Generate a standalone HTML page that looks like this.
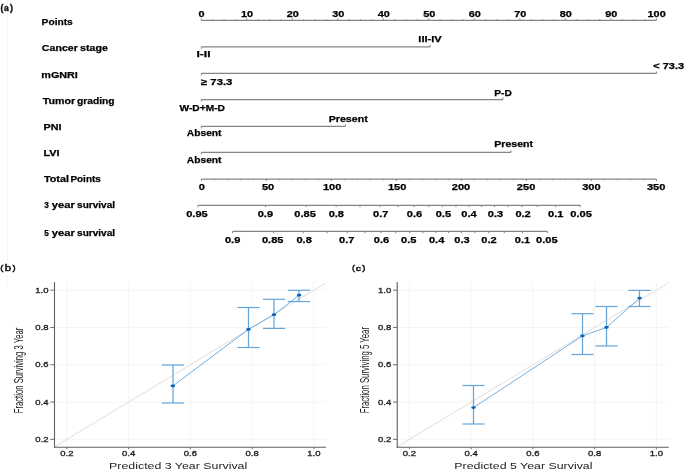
<!DOCTYPE html>
<html><head><meta charset="utf-8"><style>
html,body{margin:0;padding:0;background:#fff;width:685px;height:470px;overflow:hidden}
svg{display:block;will-change:transform}
text{font-family:"Liberation Sans",sans-serif}
</style></head><body>
<svg width="685" height="470" viewBox="0 0 685 470">
<rect width="685" height="470" fill="#fff"/>
<line x1="7.6" y1="0" x2="7.6" y2="285" stroke="#f7f7f7" stroke-width="1"/>
<text x="0.56" y="10.61" font-size="9.73" font-weight="bold" fill="#111" text-anchor="start" textLength="2.91" lengthAdjust="spacingAndGlyphs" stroke="#111" stroke-width="0.4">(</text>
<text x="4.09" y="10.65" font-size="9.64" font-weight="bold" fill="#111" text-anchor="start" textLength="4.78" lengthAdjust="spacingAndGlyphs" stroke="#111" stroke-width="0.4">a</text>
<text x="9.95" y="10.61" font-size="9.73" font-weight="bold" fill="#111" text-anchor="start" textLength="2.92" lengthAdjust="spacingAndGlyphs" stroke="#111" stroke-width="0.4">)</text>
<text x="41.64" y="24.90" font-size="9.40" font-weight="bold" fill="#000" text-anchor="start" textLength="31.18" lengthAdjust="spacingAndGlyphs" stroke="#000" stroke-width="0.25">Points</text>
<text x="41.88" y="50.80" font-size="9.40" font-weight="bold" fill="#000" text-anchor="start" textLength="35.99" lengthAdjust="spacingAndGlyphs" stroke="#000" stroke-width="0.25">Cancer</text>
<text x="80.13" y="50.80" font-size="9.40" font-weight="bold" fill="#000" text-anchor="start" textLength="27.67" lengthAdjust="spacingAndGlyphs" stroke="#000" stroke-width="0.25">stage</text>
<text x="41.30" y="77.50" font-size="9.40" font-weight="bold" fill="#000" text-anchor="start" textLength="36.55" lengthAdjust="spacingAndGlyphs" stroke="#000" stroke-width="0.25">mGNRI</text>
<text x="42.79" y="103.50" font-size="9.40" font-weight="bold" fill="#000" text-anchor="start" textLength="32.33" lengthAdjust="spacingAndGlyphs" stroke="#000" stroke-width="0.25">Tumor</text>
<text x="76.99" y="103.50" font-size="9.40" font-weight="bold" fill="#000" text-anchor="start" textLength="37.59" lengthAdjust="spacingAndGlyphs" stroke="#000" stroke-width="0.25">grading</text>
<text x="43.50" y="130.40" font-size="9.40" font-weight="bold" fill="#000" text-anchor="start" textLength="18.03" lengthAdjust="spacingAndGlyphs" stroke="#000" stroke-width="0.25">PNI</text>
<text x="43.49" y="155.70" font-size="9.40" font-weight="bold" fill="#000" text-anchor="start" textLength="16.13" lengthAdjust="spacingAndGlyphs" stroke="#000" stroke-width="0.25">LVI</text>
<text x="43.99" y="182.30" font-size="9.40" font-weight="bold" fill="#000" text-anchor="start" textLength="24.96" lengthAdjust="spacingAndGlyphs" stroke="#000" stroke-width="0.25">Total</text>
<text x="70.45" y="182.30" font-size="9.40" font-weight="bold" fill="#000" text-anchor="start" textLength="30.35" lengthAdjust="spacingAndGlyphs" stroke="#000" stroke-width="0.25">Points</text>
<text x="44.19" y="208.40" font-size="9.40" font-weight="bold" fill="#000" text-anchor="start" textLength="4.61" lengthAdjust="spacingAndGlyphs" stroke="#000" stroke-width="0.25">3</text>
<text x="51.89" y="208.40" font-size="9.40" font-weight="bold" fill="#000" text-anchor="start" textLength="22.95" lengthAdjust="spacingAndGlyphs" stroke="#000" stroke-width="0.25">year</text>
<text x="77.05" y="208.40" font-size="9.40" font-weight="bold" fill="#000" text-anchor="start" textLength="38.01" lengthAdjust="spacingAndGlyphs" stroke="#000" stroke-width="0.25">survival</text>
<text x="44.15" y="235.60" font-size="9.40" font-weight="bold" fill="#000" text-anchor="start" textLength="4.56" lengthAdjust="spacingAndGlyphs" stroke="#000" stroke-width="0.25">5</text>
<text x="51.89" y="235.60" font-size="9.40" font-weight="bold" fill="#000" text-anchor="start" textLength="22.95" lengthAdjust="spacingAndGlyphs" stroke="#000" stroke-width="0.25">year</text>
<text x="77.05" y="235.60" font-size="9.40" font-weight="bold" fill="#000" text-anchor="start" textLength="38.01" lengthAdjust="spacingAndGlyphs" stroke="#000" stroke-width="0.25">survival</text>
<line x1="201.30" y1="20.40" x2="656.40" y2="20.40" stroke="#858585" stroke-width="1.25"/>
<line x1="201.30" y1="20.40" x2="201.30" y2="18.40" stroke="#858585" stroke-width="1"/>
<line x1="212.68" y1="20.40" x2="212.68" y2="19.20" stroke="#858585" stroke-width="1"/>
<line x1="224.06" y1="20.40" x2="224.06" y2="19.20" stroke="#858585" stroke-width="1"/>
<line x1="235.43" y1="20.40" x2="235.43" y2="19.20" stroke="#858585" stroke-width="1"/>
<line x1="246.81" y1="20.40" x2="246.81" y2="18.40" stroke="#858585" stroke-width="1"/>
<line x1="258.19" y1="20.40" x2="258.19" y2="19.20" stroke="#858585" stroke-width="1"/>
<line x1="269.56" y1="20.40" x2="269.56" y2="19.20" stroke="#858585" stroke-width="1"/>
<line x1="280.94" y1="20.40" x2="280.94" y2="19.20" stroke="#858585" stroke-width="1"/>
<line x1="292.32" y1="20.40" x2="292.32" y2="18.40" stroke="#858585" stroke-width="1"/>
<line x1="303.70" y1="20.40" x2="303.70" y2="19.20" stroke="#858585" stroke-width="1"/>
<line x1="315.07" y1="20.40" x2="315.07" y2="19.20" stroke="#858585" stroke-width="1"/>
<line x1="326.45" y1="20.40" x2="326.45" y2="19.20" stroke="#858585" stroke-width="1"/>
<line x1="337.83" y1="20.40" x2="337.83" y2="18.40" stroke="#858585" stroke-width="1"/>
<line x1="349.21" y1="20.40" x2="349.21" y2="19.20" stroke="#858585" stroke-width="1"/>
<line x1="360.58" y1="20.40" x2="360.58" y2="19.20" stroke="#858585" stroke-width="1"/>
<line x1="371.96" y1="20.40" x2="371.96" y2="19.20" stroke="#858585" stroke-width="1"/>
<line x1="383.34" y1="20.40" x2="383.34" y2="18.40" stroke="#858585" stroke-width="1"/>
<line x1="394.72" y1="20.40" x2="394.72" y2="19.20" stroke="#858585" stroke-width="1"/>
<line x1="406.09" y1="20.40" x2="406.09" y2="19.20" stroke="#858585" stroke-width="1"/>
<line x1="417.47" y1="20.40" x2="417.47" y2="19.20" stroke="#858585" stroke-width="1"/>
<line x1="428.85" y1="20.40" x2="428.85" y2="18.40" stroke="#858585" stroke-width="1"/>
<line x1="440.23" y1="20.40" x2="440.23" y2="19.20" stroke="#858585" stroke-width="1"/>
<line x1="451.60" y1="20.40" x2="451.60" y2="19.20" stroke="#858585" stroke-width="1"/>
<line x1="462.98" y1="20.40" x2="462.98" y2="19.20" stroke="#858585" stroke-width="1"/>
<line x1="474.36" y1="20.40" x2="474.36" y2="18.40" stroke="#858585" stroke-width="1"/>
<line x1="485.74" y1="20.40" x2="485.74" y2="19.20" stroke="#858585" stroke-width="1"/>
<line x1="497.11" y1="20.40" x2="497.11" y2="19.20" stroke="#858585" stroke-width="1"/>
<line x1="508.49" y1="20.40" x2="508.49" y2="19.20" stroke="#858585" stroke-width="1"/>
<line x1="519.87" y1="20.40" x2="519.87" y2="18.40" stroke="#858585" stroke-width="1"/>
<line x1="531.25" y1="20.40" x2="531.25" y2="19.20" stroke="#858585" stroke-width="1"/>
<line x1="542.62" y1="20.40" x2="542.62" y2="19.20" stroke="#858585" stroke-width="1"/>
<line x1="554.00" y1="20.40" x2="554.00" y2="19.20" stroke="#858585" stroke-width="1"/>
<line x1="565.38" y1="20.40" x2="565.38" y2="18.40" stroke="#858585" stroke-width="1"/>
<line x1="576.76" y1="20.40" x2="576.76" y2="19.20" stroke="#858585" stroke-width="1"/>
<line x1="588.13" y1="20.40" x2="588.13" y2="19.20" stroke="#858585" stroke-width="1"/>
<line x1="599.51" y1="20.40" x2="599.51" y2="19.20" stroke="#858585" stroke-width="1"/>
<line x1="610.89" y1="20.40" x2="610.89" y2="18.40" stroke="#858585" stroke-width="1"/>
<line x1="622.27" y1="20.40" x2="622.27" y2="19.20" stroke="#858585" stroke-width="1"/>
<line x1="633.64" y1="20.40" x2="633.64" y2="19.20" stroke="#858585" stroke-width="1"/>
<line x1="645.02" y1="20.40" x2="645.02" y2="19.20" stroke="#858585" stroke-width="1"/>
<line x1="656.40" y1="20.40" x2="656.40" y2="18.40" stroke="#858585" stroke-width="1"/>
<text x="198.63" y="16.50" font-size="9.20" font-weight="bold" fill="#000" text-anchor="start" textLength="6.06" lengthAdjust="spacingAndGlyphs" stroke="#000" stroke-width="0.25">0</text>
<text x="241.00" y="16.50" font-size="9.20" font-weight="bold" fill="#000" text-anchor="start" textLength="12.12" lengthAdjust="spacingAndGlyphs" stroke="#000" stroke-width="0.25">10</text>
<text x="286.65" y="16.50" font-size="9.20" font-weight="bold" fill="#000" text-anchor="start" textLength="12.12" lengthAdjust="spacingAndGlyphs" stroke="#000" stroke-width="0.25">20</text>
<text x="332.21" y="16.50" font-size="9.20" font-weight="bold" fill="#000" text-anchor="start" textLength="12.12" lengthAdjust="spacingAndGlyphs" stroke="#000" stroke-width="0.25">30</text>
<text x="377.78" y="16.50" font-size="9.20" font-weight="bold" fill="#000" text-anchor="start" textLength="12.12" lengthAdjust="spacingAndGlyphs" stroke="#000" stroke-width="0.25">40</text>
<text x="423.20" y="16.50" font-size="9.20" font-weight="bold" fill="#000" text-anchor="start" textLength="12.12" lengthAdjust="spacingAndGlyphs" stroke="#000" stroke-width="0.25">50</text>
<text x="468.69" y="16.50" font-size="9.20" font-weight="bold" fill="#000" text-anchor="start" textLength="12.12" lengthAdjust="spacingAndGlyphs" stroke="#000" stroke-width="0.25">60</text>
<text x="514.17" y="16.50" font-size="9.20" font-weight="bold" fill="#000" text-anchor="start" textLength="12.12" lengthAdjust="spacingAndGlyphs" stroke="#000" stroke-width="0.25">70</text>
<text x="559.73" y="16.50" font-size="9.20" font-weight="bold" fill="#000" text-anchor="start" textLength="12.12" lengthAdjust="spacingAndGlyphs" stroke="#000" stroke-width="0.25">80</text>
<text x="605.22" y="16.50" font-size="9.20" font-weight="bold" fill="#000" text-anchor="start" textLength="12.12" lengthAdjust="spacingAndGlyphs" stroke="#000" stroke-width="0.25">90</text>
<text x="647.57" y="16.50" font-size="9.20" font-weight="bold" fill="#000" text-anchor="start" textLength="18.19" lengthAdjust="spacingAndGlyphs" stroke="#000" stroke-width="0.25">100</text>
<line x1="201.30" y1="46.80" x2="430.20" y2="46.80" stroke="#858585" stroke-width="1.25"/>
<line x1="201.30" y1="46.80" x2="201.30" y2="48.80" stroke="#858585" stroke-width="1"/>
<line x1="430.20" y1="46.80" x2="430.20" y2="44.80" stroke="#858585" stroke-width="1"/>
<text x="196.52" y="57.00" font-size="8.80" font-weight="bold" fill="#000" text-anchor="start" textLength="13.98" lengthAdjust="spacingAndGlyphs" stroke="#000" stroke-width="0.25">I-II</text>
<text x="418.38" y="42.00" font-size="8.80" font-weight="bold" fill="#000" text-anchor="start" textLength="23.39" lengthAdjust="spacingAndGlyphs" stroke="#000" stroke-width="0.25">III-IV</text>
<line x1="201.30" y1="73.45" x2="656.40" y2="73.45" stroke="#858585" stroke-width="1.25"/>
<line x1="201.30" y1="73.45" x2="201.30" y2="75.45" stroke="#858585" stroke-width="1"/>
<line x1="656.40" y1="73.45" x2="656.40" y2="71.45" stroke="#858585" stroke-width="1"/>
<text x="201.02" y="85.40" font-size="8.80" font-weight="bold" fill="#000" text-anchor="start" textLength="31.41" lengthAdjust="spacingAndGlyphs" stroke="#000" stroke-width="0.25">≥ 73.3</text>
<text x="653.26" y="69.00" font-size="8.80" font-weight="bold" fill="#000" text-anchor="start" textLength="30.86" lengthAdjust="spacingAndGlyphs" stroke="#000" stroke-width="0.25">&lt; 73.3</text>
<line x1="201.30" y1="99.50" x2="502.90" y2="99.50" stroke="#858585" stroke-width="1.25"/>
<line x1="201.30" y1="99.50" x2="201.30" y2="101.50" stroke="#858585" stroke-width="1"/>
<line x1="502.90" y1="99.50" x2="502.90" y2="97.50" stroke="#858585" stroke-width="1"/>
<text x="179.50" y="111.20" font-size="8.80" font-weight="bold" fill="#000" text-anchor="start" textLength="45.52" lengthAdjust="spacingAndGlyphs" stroke="#000" stroke-width="0.25">W-D+M-D</text>
<text x="494.34" y="96.00" font-size="8.80" font-weight="bold" fill="#000" text-anchor="start" textLength="17.49" lengthAdjust="spacingAndGlyphs" stroke="#000" stroke-width="0.25">P-D</text>
<line x1="201.30" y1="126.45" x2="345.50" y2="126.45" stroke="#858585" stroke-width="1.25"/>
<line x1="201.30" y1="126.45" x2="201.30" y2="128.45" stroke="#858585" stroke-width="1"/>
<line x1="345.50" y1="126.45" x2="345.50" y2="124.45" stroke="#858585" stroke-width="1"/>
<text x="186.84" y="135.80" font-size="8.80" font-weight="bold" fill="#000" text-anchor="start" textLength="34.70" lengthAdjust="spacingAndGlyphs" stroke="#000" stroke-width="0.25">Absent</text>
<text x="328.71" y="122.30" font-size="8.80" font-weight="bold" fill="#000" text-anchor="start" textLength="39.04" lengthAdjust="spacingAndGlyphs" stroke="#000" stroke-width="0.25">Present</text>
<line x1="201.30" y1="152.45" x2="510.90" y2="152.45" stroke="#858585" stroke-width="1.25"/>
<line x1="201.30" y1="152.45" x2="201.30" y2="154.45" stroke="#858585" stroke-width="1"/>
<line x1="510.90" y1="152.45" x2="510.90" y2="150.45" stroke="#858585" stroke-width="1"/>
<text x="186.84" y="162.60" font-size="8.80" font-weight="bold" fill="#000" text-anchor="start" textLength="34.70" lengthAdjust="spacingAndGlyphs" stroke="#000" stroke-width="0.25">Absent</text>
<text x="494.31" y="147.40" font-size="8.80" font-weight="bold" fill="#000" text-anchor="start" textLength="38.83" lengthAdjust="spacingAndGlyphs" stroke="#000" stroke-width="0.25">Present</text>
<line x1="201.40" y1="179.00" x2="656.40" y2="179.00" stroke="#858585" stroke-width="1.25"/>
<line x1="201.40" y1="179.00" x2="201.40" y2="181.00" stroke="#858585" stroke-width="1"/>
<line x1="214.40" y1="179.00" x2="214.40" y2="180.20" stroke="#858585" stroke-width="1"/>
<line x1="227.40" y1="179.00" x2="227.40" y2="180.20" stroke="#858585" stroke-width="1"/>
<line x1="240.40" y1="179.00" x2="240.40" y2="180.20" stroke="#858585" stroke-width="1"/>
<line x1="253.40" y1="179.00" x2="253.40" y2="180.20" stroke="#858585" stroke-width="1"/>
<line x1="266.40" y1="179.00" x2="266.40" y2="181.00" stroke="#858585" stroke-width="1"/>
<line x1="279.40" y1="179.00" x2="279.40" y2="180.20" stroke="#858585" stroke-width="1"/>
<line x1="292.40" y1="179.00" x2="292.40" y2="180.20" stroke="#858585" stroke-width="1"/>
<line x1="305.40" y1="179.00" x2="305.40" y2="180.20" stroke="#858585" stroke-width="1"/>
<line x1="318.40" y1="179.00" x2="318.40" y2="180.20" stroke="#858585" stroke-width="1"/>
<line x1="331.40" y1="179.00" x2="331.40" y2="181.00" stroke="#858585" stroke-width="1"/>
<line x1="344.40" y1="179.00" x2="344.40" y2="180.20" stroke="#858585" stroke-width="1"/>
<line x1="357.40" y1="179.00" x2="357.40" y2="180.20" stroke="#858585" stroke-width="1"/>
<line x1="370.40" y1="179.00" x2="370.40" y2="180.20" stroke="#858585" stroke-width="1"/>
<line x1="383.40" y1="179.00" x2="383.40" y2="180.20" stroke="#858585" stroke-width="1"/>
<line x1="396.40" y1="179.00" x2="396.40" y2="181.00" stroke="#858585" stroke-width="1"/>
<line x1="409.40" y1="179.00" x2="409.40" y2="180.20" stroke="#858585" stroke-width="1"/>
<line x1="422.40" y1="179.00" x2="422.40" y2="180.20" stroke="#858585" stroke-width="1"/>
<line x1="435.40" y1="179.00" x2="435.40" y2="180.20" stroke="#858585" stroke-width="1"/>
<line x1="448.40" y1="179.00" x2="448.40" y2="180.20" stroke="#858585" stroke-width="1"/>
<line x1="461.40" y1="179.00" x2="461.40" y2="181.00" stroke="#858585" stroke-width="1"/>
<line x1="474.40" y1="179.00" x2="474.40" y2="180.20" stroke="#858585" stroke-width="1"/>
<line x1="487.40" y1="179.00" x2="487.40" y2="180.20" stroke="#858585" stroke-width="1"/>
<line x1="500.40" y1="179.00" x2="500.40" y2="180.20" stroke="#858585" stroke-width="1"/>
<line x1="513.40" y1="179.00" x2="513.40" y2="180.20" stroke="#858585" stroke-width="1"/>
<line x1="526.40" y1="179.00" x2="526.40" y2="181.00" stroke="#858585" stroke-width="1"/>
<line x1="539.40" y1="179.00" x2="539.40" y2="180.20" stroke="#858585" stroke-width="1"/>
<line x1="552.40" y1="179.00" x2="552.40" y2="180.20" stroke="#858585" stroke-width="1"/>
<line x1="565.40" y1="179.00" x2="565.40" y2="180.20" stroke="#858585" stroke-width="1"/>
<line x1="578.40" y1="179.00" x2="578.40" y2="180.20" stroke="#858585" stroke-width="1"/>
<line x1="591.40" y1="179.00" x2="591.40" y2="181.00" stroke="#858585" stroke-width="1"/>
<line x1="604.40" y1="179.00" x2="604.40" y2="180.20" stroke="#858585" stroke-width="1"/>
<line x1="617.40" y1="179.00" x2="617.40" y2="180.20" stroke="#858585" stroke-width="1"/>
<line x1="630.40" y1="179.00" x2="630.40" y2="180.20" stroke="#858585" stroke-width="1"/>
<line x1="643.40" y1="179.00" x2="643.40" y2="180.20" stroke="#858585" stroke-width="1"/>
<line x1="656.40" y1="179.00" x2="656.40" y2="181.00" stroke="#858585" stroke-width="1"/>
<text x="198.83" y="189.90" font-size="9.10" font-weight="bold" fill="#000" text-anchor="start" textLength="6.15" lengthAdjust="spacingAndGlyphs" stroke="#000" stroke-width="0.25">0</text>
<text x="261.92" y="189.90" font-size="9.10" font-weight="bold" fill="#000" text-anchor="start" textLength="12.29" lengthAdjust="spacingAndGlyphs" stroke="#000" stroke-width="0.25">50</text>
<text x="322.99" y="189.90" font-size="9.10" font-weight="bold" fill="#000" text-anchor="start" textLength="18.44" lengthAdjust="spacingAndGlyphs" stroke="#000" stroke-width="0.25">100</text>
<text x="387.99" y="189.90" font-size="9.10" font-weight="bold" fill="#000" text-anchor="start" textLength="18.44" lengthAdjust="spacingAndGlyphs" stroke="#000" stroke-width="0.25">150</text>
<text x="451.83" y="189.90" font-size="9.10" font-weight="bold" fill="#000" text-anchor="start" textLength="18.44" lengthAdjust="spacingAndGlyphs" stroke="#000" stroke-width="0.25">200</text>
<text x="516.88" y="189.90" font-size="9.10" font-weight="bold" fill="#000" text-anchor="start" textLength="18.44" lengthAdjust="spacingAndGlyphs" stroke="#000" stroke-width="0.25">250</text>
<text x="582.18" y="189.90" font-size="9.10" font-weight="bold" fill="#000" text-anchor="start" textLength="18.44" lengthAdjust="spacingAndGlyphs" stroke="#000" stroke-width="0.25">300</text>
<text x="646.98" y="189.90" font-size="9.10" font-weight="bold" fill="#000" text-anchor="start" textLength="18.44" lengthAdjust="spacingAndGlyphs" stroke="#000" stroke-width="0.25">350</text>
<line x1="197.90" y1="205.30" x2="580.24" y2="205.30" stroke="#858585" stroke-width="1.25"/>
<line x1="197.90" y1="205.30" x2="197.90" y2="207.10" stroke="#858585" stroke-width="1"/>
<line x1="265.57" y1="205.30" x2="265.57" y2="207.10" stroke="#858585" stroke-width="1"/>
<line x1="306.31" y1="205.30" x2="306.31" y2="207.10" stroke="#858585" stroke-width="1"/>
<line x1="336.11" y1="205.30" x2="336.11" y2="207.10" stroke="#858585" stroke-width="1"/>
<line x1="359.99" y1="205.30" x2="359.99" y2="207.10" stroke="#858585" stroke-width="1"/>
<line x1="380.19" y1="205.30" x2="380.19" y2="207.10" stroke="#858585" stroke-width="1"/>
<line x1="397.94" y1="205.30" x2="397.94" y2="207.10" stroke="#858585" stroke-width="1"/>
<line x1="413.96" y1="205.30" x2="413.96" y2="207.10" stroke="#858585" stroke-width="1"/>
<line x1="428.74" y1="205.30" x2="428.74" y2="207.10" stroke="#858585" stroke-width="1"/>
<line x1="442.65" y1="205.30" x2="442.65" y2="207.10" stroke="#858585" stroke-width="1"/>
<line x1="455.95" y1="205.30" x2="455.95" y2="207.10" stroke="#858585" stroke-width="1"/>
<line x1="468.88" y1="205.30" x2="468.88" y2="207.10" stroke="#858585" stroke-width="1"/>
<line x1="481.67" y1="205.30" x2="481.67" y2="207.10" stroke="#858585" stroke-width="1"/>
<line x1="494.55" y1="205.30" x2="494.55" y2="207.10" stroke="#858585" stroke-width="1"/>
<line x1="507.80" y1="205.30" x2="507.80" y2="207.10" stroke="#858585" stroke-width="1"/>
<line x1="521.83" y1="205.30" x2="521.83" y2="207.10" stroke="#858585" stroke-width="1"/>
<line x1="537.29" y1="205.30" x2="537.29" y2="207.10" stroke="#858585" stroke-width="1"/>
<line x1="555.50" y1="205.30" x2="555.50" y2="207.10" stroke="#858585" stroke-width="1"/>
<line x1="580.24" y1="205.30" x2="580.24" y2="207.10" stroke="#858585" stroke-width="1"/>
<text x="186.22" y="216.85" font-size="9.00" font-weight="bold" fill="#000" text-anchor="start" textLength="21.51" lengthAdjust="spacingAndGlyphs" stroke="#000" stroke-width="0.25">0.95</text>
<text x="257.69" y="216.85" font-size="9.00" font-weight="bold" fill="#000" text-anchor="start" textLength="15.36" lengthAdjust="spacingAndGlyphs" stroke="#000" stroke-width="0.25">0.9</text>
<text x="294.37" y="216.85" font-size="9.00" font-weight="bold" fill="#000" text-anchor="start" textLength="21.51" lengthAdjust="spacingAndGlyphs" stroke="#000" stroke-width="0.25">0.85</text>
<text x="328.66" y="216.85" font-size="9.00" font-weight="bold" fill="#000" text-anchor="start" textLength="15.36" lengthAdjust="spacingAndGlyphs" stroke="#000" stroke-width="0.25">0.8</text>
<text x="373.07" y="216.85" font-size="9.00" font-weight="bold" fill="#000" text-anchor="start" textLength="15.36" lengthAdjust="spacingAndGlyphs" stroke="#000" stroke-width="0.25">0.7</text>
<text x="406.74" y="216.85" font-size="9.00" font-weight="bold" fill="#000" text-anchor="start" textLength="15.36" lengthAdjust="spacingAndGlyphs" stroke="#000" stroke-width="0.25">0.6</text>
<text x="435.69" y="216.85" font-size="9.00" font-weight="bold" fill="#000" text-anchor="start" textLength="15.36" lengthAdjust="spacingAndGlyphs" stroke="#000" stroke-width="0.25">0.5</text>
<text x="461.38" y="216.85" font-size="9.00" font-weight="bold" fill="#000" text-anchor="start" textLength="15.36" lengthAdjust="spacingAndGlyphs" stroke="#000" stroke-width="0.25">0.4</text>
<text x="487.84" y="216.85" font-size="9.00" font-weight="bold" fill="#000" text-anchor="start" textLength="15.36" lengthAdjust="spacingAndGlyphs" stroke="#000" stroke-width="0.25">0.3</text>
<text x="515.42" y="216.85" font-size="9.00" font-weight="bold" fill="#000" text-anchor="start" textLength="15.36" lengthAdjust="spacingAndGlyphs" stroke="#000" stroke-width="0.25">0.2</text>
<text x="548.14" y="216.85" font-size="9.00" font-weight="bold" fill="#000" text-anchor="start" textLength="15.36" lengthAdjust="spacingAndGlyphs" stroke="#000" stroke-width="0.25">0.1</text>
<text x="570.37" y="216.85" font-size="9.00" font-weight="bold" fill="#000" text-anchor="start" textLength="21.51" lengthAdjust="spacingAndGlyphs" stroke="#000" stroke-width="0.25">0.05</text>
<line x1="232.57" y1="231.45" x2="547.24" y2="231.45" stroke="#858585" stroke-width="1.25"/>
<line x1="232.57" y1="231.45" x2="232.57" y2="233.25" stroke="#858585" stroke-width="1"/>
<line x1="273.31" y1="231.45" x2="273.31" y2="233.25" stroke="#858585" stroke-width="1"/>
<line x1="303.11" y1="231.45" x2="303.11" y2="233.25" stroke="#858585" stroke-width="1"/>
<line x1="326.99" y1="231.45" x2="326.99" y2="233.25" stroke="#858585" stroke-width="1"/>
<line x1="347.19" y1="231.45" x2="347.19" y2="233.25" stroke="#858585" stroke-width="1"/>
<line x1="364.94" y1="231.45" x2="364.94" y2="233.25" stroke="#858585" stroke-width="1"/>
<line x1="380.96" y1="231.45" x2="380.96" y2="233.25" stroke="#858585" stroke-width="1"/>
<line x1="395.74" y1="231.45" x2="395.74" y2="233.25" stroke="#858585" stroke-width="1"/>
<line x1="409.65" y1="231.45" x2="409.65" y2="233.25" stroke="#858585" stroke-width="1"/>
<line x1="422.95" y1="231.45" x2="422.95" y2="233.25" stroke="#858585" stroke-width="1"/>
<line x1="435.88" y1="231.45" x2="435.88" y2="233.25" stroke="#858585" stroke-width="1"/>
<line x1="448.67" y1="231.45" x2="448.67" y2="233.25" stroke="#858585" stroke-width="1"/>
<line x1="461.55" y1="231.45" x2="461.55" y2="233.25" stroke="#858585" stroke-width="1"/>
<line x1="474.80" y1="231.45" x2="474.80" y2="233.25" stroke="#858585" stroke-width="1"/>
<line x1="488.83" y1="231.45" x2="488.83" y2="233.25" stroke="#858585" stroke-width="1"/>
<line x1="504.29" y1="231.45" x2="504.29" y2="233.25" stroke="#858585" stroke-width="1"/>
<line x1="522.50" y1="231.45" x2="522.50" y2="233.25" stroke="#858585" stroke-width="1"/>
<line x1="547.24" y1="231.45" x2="547.24" y2="233.25" stroke="#858585" stroke-width="1"/>
<text x="224.94" y="243.10" font-size="9.00" font-weight="bold" fill="#000" text-anchor="start" textLength="15.36" lengthAdjust="spacingAndGlyphs" stroke="#000" stroke-width="0.25">0.9</text>
<text x="261.97" y="243.10" font-size="9.00" font-weight="bold" fill="#000" text-anchor="start" textLength="21.51" lengthAdjust="spacingAndGlyphs" stroke="#000" stroke-width="0.25">0.85</text>
<text x="296.46" y="243.10" font-size="9.00" font-weight="bold" fill="#000" text-anchor="start" textLength="15.36" lengthAdjust="spacingAndGlyphs" stroke="#000" stroke-width="0.25">0.8</text>
<text x="339.12" y="243.10" font-size="9.00" font-weight="bold" fill="#000" text-anchor="start" textLength="15.36" lengthAdjust="spacingAndGlyphs" stroke="#000" stroke-width="0.25">0.7</text>
<text x="373.74" y="243.10" font-size="9.00" font-weight="bold" fill="#000" text-anchor="start" textLength="15.36" lengthAdjust="spacingAndGlyphs" stroke="#000" stroke-width="0.25">0.6</text>
<text x="400.99" y="243.10" font-size="9.00" font-weight="bold" fill="#000" text-anchor="start" textLength="15.36" lengthAdjust="spacingAndGlyphs" stroke="#000" stroke-width="0.25">0.5</text>
<text x="428.93" y="243.10" font-size="9.00" font-weight="bold" fill="#000" text-anchor="start" textLength="15.36" lengthAdjust="spacingAndGlyphs" stroke="#000" stroke-width="0.25">0.4</text>
<text x="454.24" y="243.10" font-size="9.00" font-weight="bold" fill="#000" text-anchor="start" textLength="15.36" lengthAdjust="spacingAndGlyphs" stroke="#000" stroke-width="0.25">0.3</text>
<text x="481.27" y="243.10" font-size="9.00" font-weight="bold" fill="#000" text-anchor="start" textLength="15.36" lengthAdjust="spacingAndGlyphs" stroke="#000" stroke-width="0.25">0.2</text>
<text x="514.84" y="243.10" font-size="9.00" font-weight="bold" fill="#000" text-anchor="start" textLength="15.36" lengthAdjust="spacingAndGlyphs" stroke="#000" stroke-width="0.25">0.1</text>
<text x="536.12" y="243.10" font-size="9.00" font-weight="bold" fill="#000" text-anchor="start" textLength="21.51" lengthAdjust="spacingAndGlyphs" stroke="#000" stroke-width="0.25">0.05</text>
<line x1="66.90" y1="282.10" x2="66.90" y2="447.30" stroke="#f2f2f2" stroke-width="0.8"/>
<line x1="54.50" y1="439.35" x2="326.00" y2="439.35" stroke="#f2f2f2" stroke-width="0.8"/>
<line x1="128.65" y1="282.10" x2="128.65" y2="447.30" stroke="#f2f2f2" stroke-width="0.8"/>
<line x1="54.50" y1="402.05" x2="326.00" y2="402.05" stroke="#f2f2f2" stroke-width="0.8"/>
<line x1="190.40" y1="282.10" x2="190.40" y2="447.30" stroke="#f2f2f2" stroke-width="0.8"/>
<line x1="54.50" y1="364.75" x2="326.00" y2="364.75" stroke="#f2f2f2" stroke-width="0.8"/>
<line x1="252.15" y1="282.10" x2="252.15" y2="447.30" stroke="#f2f2f2" stroke-width="0.8"/>
<line x1="54.50" y1="327.45" x2="326.00" y2="327.45" stroke="#f2f2f2" stroke-width="0.8"/>
<line x1="313.90" y1="282.10" x2="313.90" y2="447.30" stroke="#f2f2f2" stroke-width="0.8"/>
<line x1="54.50" y1="290.15" x2="326.00" y2="290.15" stroke="#f2f2f2" stroke-width="0.8"/>
<line x1="54.50" y1="446.84" x2="326.00" y2="282.84" stroke="#d6d6d6" stroke-width="0.8"/>
<line x1="54.50" y1="282.10" x2="54.50" y2="447.80" stroke="#5f5f5f" stroke-width="1.1"/>
<line x1="54.00" y1="447.30" x2="326.00" y2="447.30" stroke="#5f5f5f" stroke-width="1.1"/>
<line x1="50.30" y1="439.35" x2="54.50" y2="439.35" stroke="#5f5f5f" stroke-width="0.9"/>
<line x1="66.90" y1="447.30" x2="66.90" y2="449.30" stroke="#5f5f5f" stroke-width="0.9"/>
<text x="48.50" y="441.95" font-size="7.00" font-weight="normal" fill="#222" text-anchor="end" textLength="13.20" lengthAdjust="spacingAndGlyphs" stroke="#222" stroke-width="0.3">0.2</text>
<text x="66.90" y="455.90" font-size="7.00" font-weight="normal" fill="#222" text-anchor="middle" textLength="13.20" lengthAdjust="spacingAndGlyphs" stroke="#222" stroke-width="0.3">0.2</text>
<line x1="50.30" y1="402.05" x2="54.50" y2="402.05" stroke="#5f5f5f" stroke-width="0.9"/>
<line x1="128.65" y1="447.30" x2="128.65" y2="449.30" stroke="#5f5f5f" stroke-width="0.9"/>
<text x="48.50" y="404.65" font-size="7.00" font-weight="normal" fill="#222" text-anchor="end" textLength="13.20" lengthAdjust="spacingAndGlyphs" stroke="#222" stroke-width="0.3">0.4</text>
<text x="128.65" y="455.90" font-size="7.00" font-weight="normal" fill="#222" text-anchor="middle" textLength="13.20" lengthAdjust="spacingAndGlyphs" stroke="#222" stroke-width="0.3">0.4</text>
<line x1="50.30" y1="364.75" x2="54.50" y2="364.75" stroke="#5f5f5f" stroke-width="0.9"/>
<line x1="190.40" y1="447.30" x2="190.40" y2="449.30" stroke="#5f5f5f" stroke-width="0.9"/>
<text x="48.50" y="367.35" font-size="7.00" font-weight="normal" fill="#222" text-anchor="end" textLength="13.20" lengthAdjust="spacingAndGlyphs" stroke="#222" stroke-width="0.3">0.6</text>
<text x="190.40" y="455.90" font-size="7.00" font-weight="normal" fill="#222" text-anchor="middle" textLength="13.20" lengthAdjust="spacingAndGlyphs" stroke="#222" stroke-width="0.3">0.6</text>
<line x1="50.30" y1="327.45" x2="54.50" y2="327.45" stroke="#5f5f5f" stroke-width="0.9"/>
<line x1="252.15" y1="447.30" x2="252.15" y2="449.30" stroke="#5f5f5f" stroke-width="0.9"/>
<text x="48.50" y="330.05" font-size="7.00" font-weight="normal" fill="#222" text-anchor="end" textLength="13.20" lengthAdjust="spacingAndGlyphs" stroke="#222" stroke-width="0.3">0.8</text>
<text x="252.15" y="455.90" font-size="7.00" font-weight="normal" fill="#222" text-anchor="middle" textLength="13.20" lengthAdjust="spacingAndGlyphs" stroke="#222" stroke-width="0.3">0.8</text>
<line x1="50.30" y1="290.15" x2="54.50" y2="290.15" stroke="#5f5f5f" stroke-width="0.9"/>
<line x1="313.90" y1="447.30" x2="313.90" y2="449.30" stroke="#5f5f5f" stroke-width="0.9"/>
<text x="48.50" y="292.75" font-size="7.00" font-weight="normal" fill="#222" text-anchor="end" textLength="13.20" lengthAdjust="spacingAndGlyphs" stroke="#222" stroke-width="0.3">1.0</text>
<text x="313.90" y="455.90" font-size="7.00" font-weight="normal" fill="#222" text-anchor="middle" textLength="13.20" lengthAdjust="spacingAndGlyphs" stroke="#222" stroke-width="0.3">1.0</text>
<line x1="173.00" y1="365.00" x2="173.00" y2="403.00" stroke="#66a5da" stroke-width="1.25"/>
<line x1="161.90" y1="365.00" x2="184.10" y2="365.00" stroke="#66a5da" stroke-width="1.2"/>
<line x1="161.90" y1="403.00" x2="184.10" y2="403.00" stroke="#66a5da" stroke-width="1.2"/>
<line x1="248.50" y1="307.50" x2="248.50" y2="347.50" stroke="#66a5da" stroke-width="1.25"/>
<line x1="237.40" y1="307.50" x2="259.60" y2="307.50" stroke="#66a5da" stroke-width="1.2"/>
<line x1="237.40" y1="347.50" x2="259.60" y2="347.50" stroke="#66a5da" stroke-width="1.2"/>
<line x1="274.00" y1="299.30" x2="274.00" y2="328.40" stroke="#66a5da" stroke-width="1.25"/>
<line x1="262.90" y1="299.30" x2="285.10" y2="299.30" stroke="#66a5da" stroke-width="1.2"/>
<line x1="262.90" y1="328.40" x2="285.10" y2="328.40" stroke="#66a5da" stroke-width="1.2"/>
<line x1="299.05" y1="290.30" x2="299.05" y2="301.55" stroke="#66a5da" stroke-width="1.25"/>
<line x1="287.95" y1="290.30" x2="310.15" y2="290.30" stroke="#66a5da" stroke-width="1.2"/>
<line x1="287.95" y1="301.55" x2="310.15" y2="301.55" stroke="#66a5da" stroke-width="1.2"/>
<path d="M172.90,385.90 L248.40,329.40 L274.00,314.70 L299.10,295.20" fill="none" stroke="#4f98d8" stroke-width="0.8"/>
<ellipse cx="172.90" cy="385.90" rx="2.3" ry="1.4" fill="#0b63b6"/>
<ellipse cx="248.40" cy="329.40" rx="2.3" ry="1.4" fill="#0b63b6"/>
<ellipse cx="274.00" cy="314.70" rx="2.3" ry="1.4" fill="#0b63b6"/>
<ellipse cx="299.10" cy="295.20" rx="2.3" ry="1.4" fill="#0b63b6"/>
<text x="0.23" y="270.34" font-size="7.91" font-weight="normal" fill="#111" text-anchor="start" textLength="3.14" lengthAdjust="spacingAndGlyphs" stroke="#111" stroke-width="0.45">(</text>
<text x="4.76" y="270.81" font-size="8.71" font-weight="normal" fill="#111" text-anchor="start" textLength="6.30" lengthAdjust="spacingAndGlyphs" stroke="#111" stroke-width="0.45">b</text>
<text x="12.45" y="270.34" font-size="7.91" font-weight="normal" fill="#111" text-anchor="start" textLength="3.14" lengthAdjust="spacingAndGlyphs" stroke="#111" stroke-width="0.45">)</text>
<text x="0" y="0" font-size="12.8" fill="#222" text-anchor="middle" textLength="85.60" lengthAdjust="spacingAndGlyphs" transform="translate(23.00,370.50) rotate(-90)">Fraction Surviving 3 Year</text>
<text x="109.11" y="469.00" font-size="9.40" font-weight="normal" fill="#222" text-anchor="start" textLength="138.14" lengthAdjust="spacingAndGlyphs">Predicted 3 Year Survival</text>
<line x1="409.40" y1="282.10" x2="409.40" y2="447.30" stroke="#f2f2f2" stroke-width="0.8"/>
<line x1="397.25" y1="439.35" x2="668.75" y2="439.35" stroke="#f2f2f2" stroke-width="0.8"/>
<line x1="471.15" y1="282.10" x2="471.15" y2="447.30" stroke="#f2f2f2" stroke-width="0.8"/>
<line x1="397.25" y1="402.05" x2="668.75" y2="402.05" stroke="#f2f2f2" stroke-width="0.8"/>
<line x1="532.90" y1="282.10" x2="532.90" y2="447.30" stroke="#f2f2f2" stroke-width="0.8"/>
<line x1="397.25" y1="364.75" x2="668.75" y2="364.75" stroke="#f2f2f2" stroke-width="0.8"/>
<line x1="594.65" y1="282.10" x2="594.65" y2="447.30" stroke="#f2f2f2" stroke-width="0.8"/>
<line x1="397.25" y1="327.45" x2="668.75" y2="327.45" stroke="#f2f2f2" stroke-width="0.8"/>
<line x1="656.40" y1="282.10" x2="656.40" y2="447.30" stroke="#f2f2f2" stroke-width="0.8"/>
<line x1="397.25" y1="290.15" x2="668.75" y2="290.15" stroke="#f2f2f2" stroke-width="0.8"/>
<line x1="397.25" y1="446.69" x2="668.75" y2="282.69" stroke="#d6d6d6" stroke-width="0.8"/>
<line x1="397.25" y1="282.10" x2="397.25" y2="447.80" stroke="#5f5f5f" stroke-width="1.1"/>
<line x1="396.75" y1="447.30" x2="668.75" y2="447.30" stroke="#5f5f5f" stroke-width="1.1"/>
<line x1="393.05" y1="439.35" x2="397.25" y2="439.35" stroke="#5f5f5f" stroke-width="0.9"/>
<line x1="409.40" y1="447.30" x2="409.40" y2="449.30" stroke="#5f5f5f" stroke-width="0.9"/>
<text x="391.25" y="441.95" font-size="7.00" font-weight="normal" fill="#222" text-anchor="end" textLength="13.20" lengthAdjust="spacingAndGlyphs" stroke="#222" stroke-width="0.3">0.2</text>
<text x="409.40" y="455.90" font-size="7.00" font-weight="normal" fill="#222" text-anchor="middle" textLength="13.20" lengthAdjust="spacingAndGlyphs" stroke="#222" stroke-width="0.3">0.2</text>
<line x1="393.05" y1="402.05" x2="397.25" y2="402.05" stroke="#5f5f5f" stroke-width="0.9"/>
<line x1="471.15" y1="447.30" x2="471.15" y2="449.30" stroke="#5f5f5f" stroke-width="0.9"/>
<text x="391.25" y="404.65" font-size="7.00" font-weight="normal" fill="#222" text-anchor="end" textLength="13.20" lengthAdjust="spacingAndGlyphs" stroke="#222" stroke-width="0.3">0.4</text>
<text x="471.15" y="455.90" font-size="7.00" font-weight="normal" fill="#222" text-anchor="middle" textLength="13.20" lengthAdjust="spacingAndGlyphs" stroke="#222" stroke-width="0.3">0.4</text>
<line x1="393.05" y1="364.75" x2="397.25" y2="364.75" stroke="#5f5f5f" stroke-width="0.9"/>
<line x1="532.90" y1="447.30" x2="532.90" y2="449.30" stroke="#5f5f5f" stroke-width="0.9"/>
<text x="391.25" y="367.35" font-size="7.00" font-weight="normal" fill="#222" text-anchor="end" textLength="13.20" lengthAdjust="spacingAndGlyphs" stroke="#222" stroke-width="0.3">0.6</text>
<text x="532.90" y="455.90" font-size="7.00" font-weight="normal" fill="#222" text-anchor="middle" textLength="13.20" lengthAdjust="spacingAndGlyphs" stroke="#222" stroke-width="0.3">0.6</text>
<line x1="393.05" y1="327.45" x2="397.25" y2="327.45" stroke="#5f5f5f" stroke-width="0.9"/>
<line x1="594.65" y1="447.30" x2="594.65" y2="449.30" stroke="#5f5f5f" stroke-width="0.9"/>
<text x="391.25" y="330.05" font-size="7.00" font-weight="normal" fill="#222" text-anchor="end" textLength="13.20" lengthAdjust="spacingAndGlyphs" stroke="#222" stroke-width="0.3">0.8</text>
<text x="594.65" y="455.90" font-size="7.00" font-weight="normal" fill="#222" text-anchor="middle" textLength="13.20" lengthAdjust="spacingAndGlyphs" stroke="#222" stroke-width="0.3">0.8</text>
<line x1="393.05" y1="290.15" x2="397.25" y2="290.15" stroke="#5f5f5f" stroke-width="0.9"/>
<line x1="656.40" y1="447.30" x2="656.40" y2="449.30" stroke="#5f5f5f" stroke-width="0.9"/>
<text x="391.25" y="292.75" font-size="7.00" font-weight="normal" fill="#222" text-anchor="end" textLength="13.20" lengthAdjust="spacingAndGlyphs" stroke="#222" stroke-width="0.3">1.0</text>
<text x="656.40" y="455.90" font-size="7.00" font-weight="normal" fill="#222" text-anchor="middle" textLength="13.20" lengthAdjust="spacingAndGlyphs" stroke="#222" stroke-width="0.3">1.0</text>
<line x1="473.50" y1="385.50" x2="473.50" y2="424.00" stroke="#66a5da" stroke-width="1.25"/>
<line x1="462.40" y1="385.50" x2="484.60" y2="385.50" stroke="#66a5da" stroke-width="1.2"/>
<line x1="462.40" y1="424.00" x2="484.60" y2="424.00" stroke="#66a5da" stroke-width="1.2"/>
<line x1="582.50" y1="313.70" x2="582.50" y2="354.50" stroke="#66a5da" stroke-width="1.25"/>
<line x1="571.40" y1="313.70" x2="593.60" y2="313.70" stroke="#66a5da" stroke-width="1.2"/>
<line x1="571.40" y1="354.50" x2="593.60" y2="354.50" stroke="#66a5da" stroke-width="1.2"/>
<line x1="606.50" y1="306.50" x2="606.50" y2="346.00" stroke="#66a5da" stroke-width="1.25"/>
<line x1="595.40" y1="306.50" x2="617.60" y2="306.50" stroke="#66a5da" stroke-width="1.2"/>
<line x1="595.40" y1="346.00" x2="617.60" y2="346.00" stroke="#66a5da" stroke-width="1.2"/>
<line x1="639.50" y1="290.40" x2="639.50" y2="306.50" stroke="#66a5da" stroke-width="1.25"/>
<line x1="628.40" y1="290.40" x2="650.60" y2="290.40" stroke="#66a5da" stroke-width="1.2"/>
<line x1="628.40" y1="306.50" x2="650.60" y2="306.50" stroke="#66a5da" stroke-width="1.2"/>
<path d="M473.50,407.60 L582.40,335.90 L606.50,327.40 L639.60,298.10" fill="none" stroke="#4f98d8" stroke-width="0.8"/>
<ellipse cx="473.50" cy="407.60" rx="2.3" ry="1.4" fill="#0b63b6"/>
<ellipse cx="582.40" cy="335.90" rx="2.3" ry="1.4" fill="#0b63b6"/>
<ellipse cx="606.50" cy="327.40" rx="2.3" ry="1.4" fill="#0b63b6"/>
<ellipse cx="639.60" cy="298.10" rx="2.3" ry="1.4" fill="#0b63b6"/>
<text x="352.02" y="270.34" font-size="7.91" font-weight="normal" fill="#111" text-anchor="start" textLength="2.95" lengthAdjust="spacingAndGlyphs" stroke="#111" stroke-width="0.45">(</text>
<text x="355.88" y="270.63" font-size="7.45" font-weight="normal" fill="#111" text-anchor="start" textLength="5.24" lengthAdjust="spacingAndGlyphs" stroke="#111" stroke-width="0.45">c</text>
<text x="362.35" y="270.34" font-size="7.91" font-weight="normal" fill="#111" text-anchor="start" textLength="3.14" lengthAdjust="spacingAndGlyphs" stroke="#111" stroke-width="0.45">)</text>
<text x="0" y="0" font-size="12.8" fill="#222" text-anchor="middle" textLength="86.30" lengthAdjust="spacingAndGlyphs" transform="translate(368.80,370.15) rotate(-90)">Fraction Surviving 5 Year</text>
<text x="454.31" y="469.00" font-size="9.40" font-weight="normal" fill="#222" text-anchor="start" textLength="138.14" lengthAdjust="spacingAndGlyphs">Predicted 5 Year Survival</text>
</svg>
</body></html>
